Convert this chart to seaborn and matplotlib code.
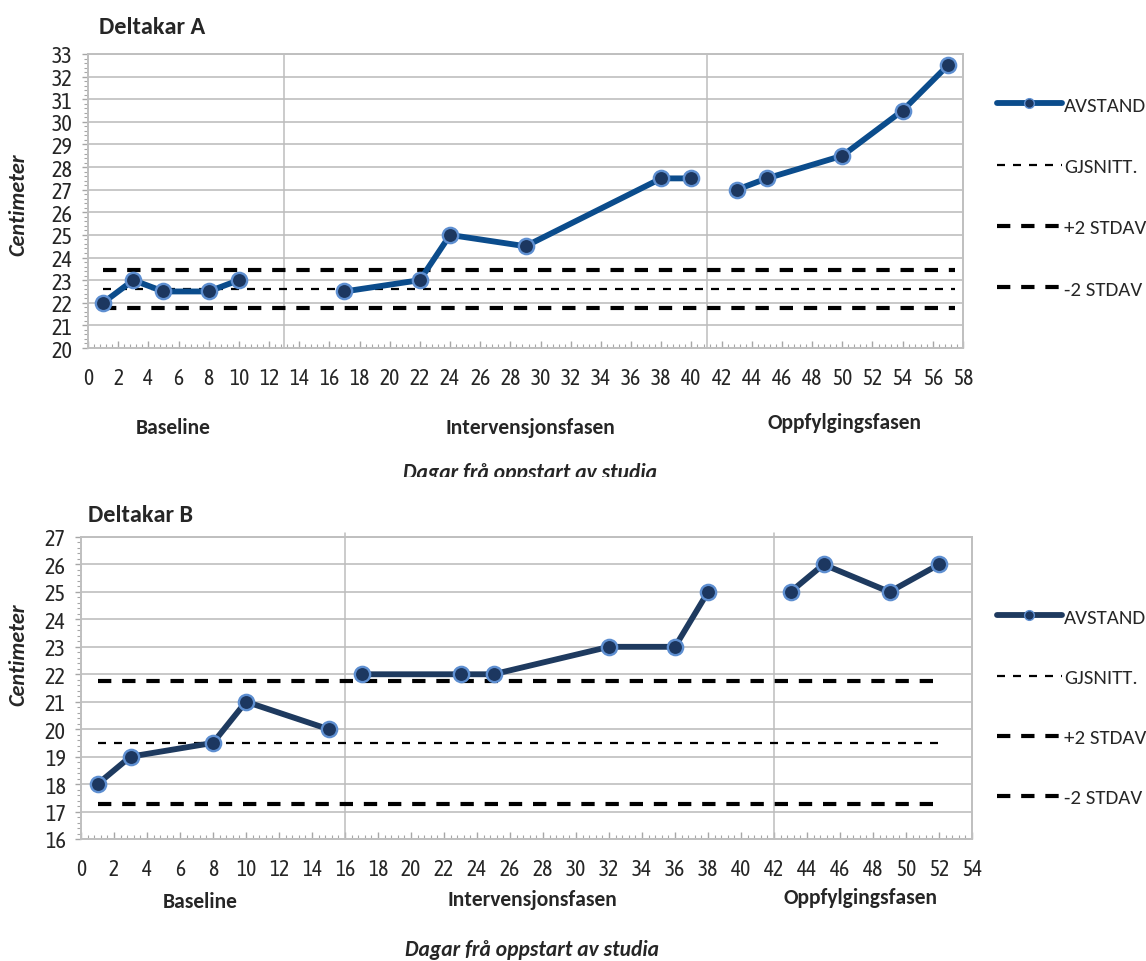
import matplotlib
matplotlib.use("Agg")
import matplotlib.pyplot as plt
import pandas as pd
import seaborn as sns
from matplotlib.lines import Line2D
from matplotlib.ticker import MultipleLocator
from matplotlib.transforms import Bbox, TransformedBbox

# ---- Deltakar A ----
days_a = [1, 3, 5, 8, 10, 17, 22, 24, 29, 38, 40, 43, 45, 50, 54, 57]
cm_a = [22, 23, 22.5, 22.5, 23, 22.5, 23, 25, 24.5, 27.5, 27.5, 27, 27.5, 28.5, 30.5, 32.5]
phase_a = ["Baseline"] * 5 + ["Intervensjonsfasen"] * 6 + ["Oppfylgingsfasen"] * 5
mean_a, plus_a, minus_a = 22.6, 23.44, 21.76

# ---- Deltakar B ----
days_b = [1, 3, 8, 10, 15, 17, 23, 25, 32, 36, 38, 43, 45, 49, 52]
cm_b = [18, 19, 19.5, 21, 20, 22, 22, 22, 23, 23, 25, 25, 26, 25, 26]
phase_b = ["Baseline"] * 5 + ["Intervensjonsfasen"] * 6 + ["Oppfylgingsfasen"] * 4
mean_b, plus_b, minus_b = 19.5, 21.74, 17.26

phase_names = ["Baseline", "Intervensjonsfasen", "Oppfylgingsfasen"]
legend_labels = ["AVSTAND", "GJSNITT.", "+2 STDAV", "-2 STDAV"]
x_title = "Dagar frå oppstart av studia"
y_title = "Centimeter"

sns.set_style("white")
plt.rcParams["font.family"] = ["Carlito", "Lato", "DejaVu Sans"]
TICK_FONT = ["Asap Condensed", "Lato", "DejaVu Sans"]

W, H = 1146, 962
fig = plt.figure(figsize=(W / 100, H / 100), dpi=100)


def fx(x):
    return x / W


def fy(y):
    return 1 - y / H


GRID = "#C8C8C8"
EDGE = "#5E8FD1"
FILL = "#1C3760"


def draw_panel(rect, days, cm, phase, levels, span, xmax, ylim, dividers,
               line_color, xpad, divider_top):
    left, top, right, bottom = rect
    ax = fig.add_axes([fx(left), fy(bottom), fx(right) - fx(left), fy(top) - fy(bottom)])
    df = pd.DataFrame({"dag": days, "cm": cm, "fase": phase})

    ax.set_axisbelow(True)
    ax.yaxis.grid(True, color=GRID, lw=1.4)
    ax.xaxis.grid(False)
    for d in dividers:
        ax.axvline(d, ymin=0, ymax=divider_top, color="#BDBDBD", lw=1.1,
                   clip_on=False, zorder=1)

    mean, plus, minus = levels
    x0, x1 = span
    l_mean, = ax.plot([x0, x1], [mean, mean], color="black", lw=1.6,
                      dashes=(3.6, 3.6), zorder=3)
    l_plus, = ax.plot([x0, x1], [plus, plus], color="black", lw=3.0,
                      dashes=(3.2, 2.6), zorder=3)
    l_minus, = ax.plot([x0, x1], [minus, minus], color="black", lw=3.0,
                       dashes=(3.2, 2.6), zorder=3)

    # one connected trace per study phase
    sns.lineplot(data=df, x="dag", y="cm", units="fase", estimator=None,
                 sort=False, color=line_color, lw=4.2, marker="o",
                 markersize=11, markerfacecolor=FILL, markeredgecolor=EDGE,
                 markeredgewidth=1.7, ax=ax, zorder=4, legend=False)

    ax.set_xlim(0, xmax)
    ax.set_ylim(*ylim)
    ax.xaxis.set_major_locator(MultipleLocator(2))
    ax.xaxis.set_minor_locator(MultipleLocator(0.4))
    ax.yaxis.set_major_locator(MultipleLocator(1))
    ax.yaxis.set_minor_locator(MultipleLocator(0.2))
    ax.tick_params(axis="x", which="major", direction="in", length=5, width=1,
                   color="#A6A6A6", labelsize=15.5, pad=xpad, bottom=True)
    ax.tick_params(axis="x", which="minor", direction="in", length=3, width=0.8,
                   color="#A6A6A6", bottom=True)
    ax.tick_params(axis="y", which="major", direction="out", length=4, width=1,
                   color="#A6A6A6", labelsize=16, pad=7, left=True)
    ax.tick_params(axis="y", which="minor", direction="out", length=3, width=0.8,
                   color="#A6A6A6", left=True)
    for lab in ax.get_xticklabels() + ax.get_yticklabels():
        lab.set_family(TICK_FONT)
    ax.set_xlabel("")
    ax.set_ylabel("")
    for s in ax.spines.values():
        s.set_color("#BFBFBF")
        s.set_linewidth(1.4)

    avst = Line2D([], [], color=line_color, lw=4.2, marker="o", markersize=7,
                  markerfacecolor=FILL, markeredgecolor=EDGE, markeredgewidth=1)
    return ax, [avst, l_mean, l_plus, l_minus]


def add_legend(ax, handles, top_px, spacing):
    ax.legend(handles, legend_labels, loc="upper left",
              bbox_to_anchor=(fx(997), fy(top_px)), bbox_transform=fig.transFigure,
              frameon=False, fontsize=15, handlelength=3.1, handletextpad=0.12,
              labelspacing=spacing, borderpad=0, borderaxespad=0)


def panel_texts(title, title_xy, ylab_xy, phase_xy, xt_xy):
    fig.text(fx(title_xy[0]), fy(title_xy[1]), title, fontsize=17.5,
             fontweight="bold", va="center", ha="left")
    fig.text(fx(ylab_xy[0]), fy(ylab_xy[1]), y_title, rotation=90, fontsize=16,
             fontweight="bold", fontstyle="italic", va="center", ha="center")
    for name, (px, py) in zip(phase_names, phase_xy):
        fig.text(fx(px), fy(py), name, fontsize=15.5, fontweight="bold",
                 ha="center", va="center")
    return fig.text(fx(xt_xy[0]), fy(xt_xy[1]), x_title, fontsize=15.5,
                    fontweight="bold", fontstyle="italic", ha="center", va="center")


# ---- top panel ----
ax_a, h_a = draw_panel((88, 55, 963, 349), days_a, cm_a, phase_a,
                       (mean_a, plus_a, minus_a), (1, 57.5), 58, (20, 33),
                       [13, 41], "#0B4C8C", 14, 1.0)
add_legend(ax_a, h_a, 97, 2.1)
t_a = panel_texts("Deltakar A", (99, 27), (18, 205),
                  [(173, 428), (530, 428), (845, 423)], (530, 473))
# the axis title of the upper panel is cut at its baseline
t_a.set_clip_box(TransformedBbox(Bbox.from_extents(0, fy(478), 1, 1), fig.transFigure))
t_a.set_clip_on(True)

# ---- bottom panel ----
ax_b, h_b = draw_panel((81, 538, 972, 840), days_b, cm_b, phase_b,
                       (mean_b, plus_b, minus_b), (1, 52), 54, (16, 27),
                       [16, 42], "#1E3A5F", 13.5, 1.014)
add_legend(ax_b, h_b, 609, 2.05)
panel_texts("Deltakar B", (88, 516), (18, 655),
            [(200, 902), (532, 900), (861, 898)], (532, 950))

fig.savefig("out.png", dpi=100, facecolor="white")
